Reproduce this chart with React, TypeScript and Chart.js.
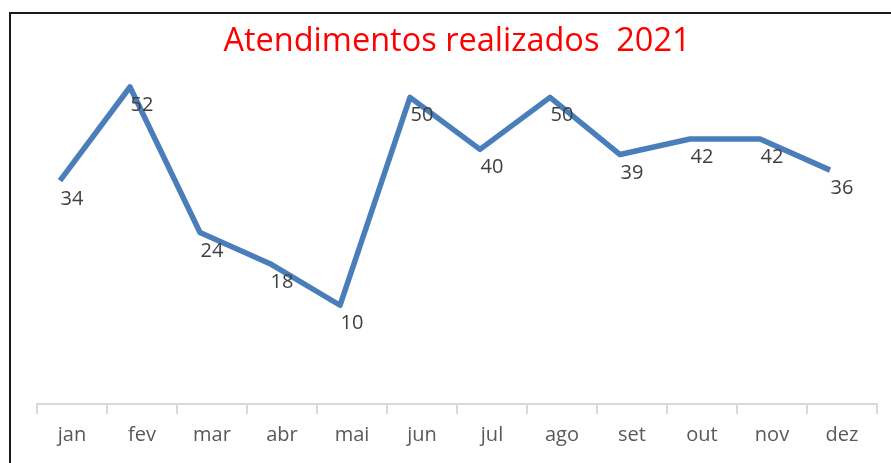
import React, { useEffect, useRef } from "react";
import { Chart, registerables } from "chart.js";

Chart.register(...registerables);

const categories = ["jan", "fev", "mar", "abr", "mai", "jun", "jul", "ago", "set", "out", "nov", "dez"];
const values = [34, 52, 24, 18, 10, 50, 40, 50, 39, 42, 42, 36];
const titleText = "Atendimentos realizados  2021";

const FONT = "'Open Sans', sans-serif";

const labelPlugin = {
  id: "valueLabels",
  afterDatasetsDraw(chart: any) {
    const { ctx, scales } = chart;
    ctx.save();
    ctx.font = `20px ${FONT}`;
    ctx.fillStyle = "#404040";
    ctx.textAlign = "center";
    ctx.textBaseline = "alphabetic";
    values.forEach((v, i) => {
      const x = scales.x.getPixelForValue(i);
      const y = scales.y.getPixelForValue(v) + 24;
      ctx.fillText(String(v), x, y);
    });
    ctx.restore();
  },
};

export default function App() {
  const ref = useRef<HTMLCanvasElement | null>(null);
  useEffect(() => {
    if (!ref.current) return;
    const chart = new Chart(ref.current, {
      type: "line",
      data: {
        labels: categories,
        datasets: [
          {
            data: values.map((v, i) => ({ x: i, y: v })),
            xAxisID: "x2",
            yAxisID: "y",
            borderColor: "#4A7EBB",
            borderWidth: 5.5,
            borderJoinStyle: "round",
            borderCapStyle: "butt",
            pointRadius: 0,
            tension: 0,
            fill: false,
          },
        ],
      },
      options: {
        responsive: false,
        animation: false,
        devicePixelRatio: 1,
        layout: { padding: { left: 37, right: 14, top: 0, bottom: 7 } },
        plugins: {
          legend: { display: false },
          tooltip: { enabled: false },
          title: {
            display: true,
            text: titleText,
            color: "#ff0000",
            font: { family: FONT, size: 32.5, weight: "normal" },
            padding: { top: 22, bottom: 0 },
          },
        },
        scales: {
          x: {
            type: "category",
            labels: categories,
            offset: true,
            grid: {
              display: true,
              drawOnChartArea: false,
              drawTicks: true,
              tickLength: 10,
              offset: true,
              color: "#d9d9d9",
              lineWidth: 2,
            },
            border: { display: true, color: "#d9d9d9", width: 2 },
            ticks: {
              color: "#595959",
              font: { family: FONT, size: 20 },
              padding: 9,
              maxRotation: 0,
              autoSkip: false,
            },
          },
          x2: {
            type: "linear",
            display: false,
            min: -23 / 70,
            max: 12 - 23 / 70,
          },
          y: {
            type: "linear",
            display: false,
            min: -9,
            max: 57,
          },
        },
      },
      plugins: [labelPlugin],
    } as any);
    return () => chart.destroy();
  }, []);

  return (
    <div
      style={{
        position: "fixed",
        left: 0,
        top: 0,
        width: 891,
        height: 463,
        overflow: "hidden",
        background: "#ffffff",
      }}
    >
      <canvas ref={ref} width={891} height={463} style={{ display: "block", width: 891, height: 463 }} />
      <div
        style={{
          position: "absolute",
          left: 9,
          top: 12,
          width: 1000,
          height: 1000,
          borderLeft: "2px solid #1a1a1a",
          borderTop: "2px solid #1a1a1a",
          pointerEvents: "none",
        }}
      />
    </div>
  );
}
